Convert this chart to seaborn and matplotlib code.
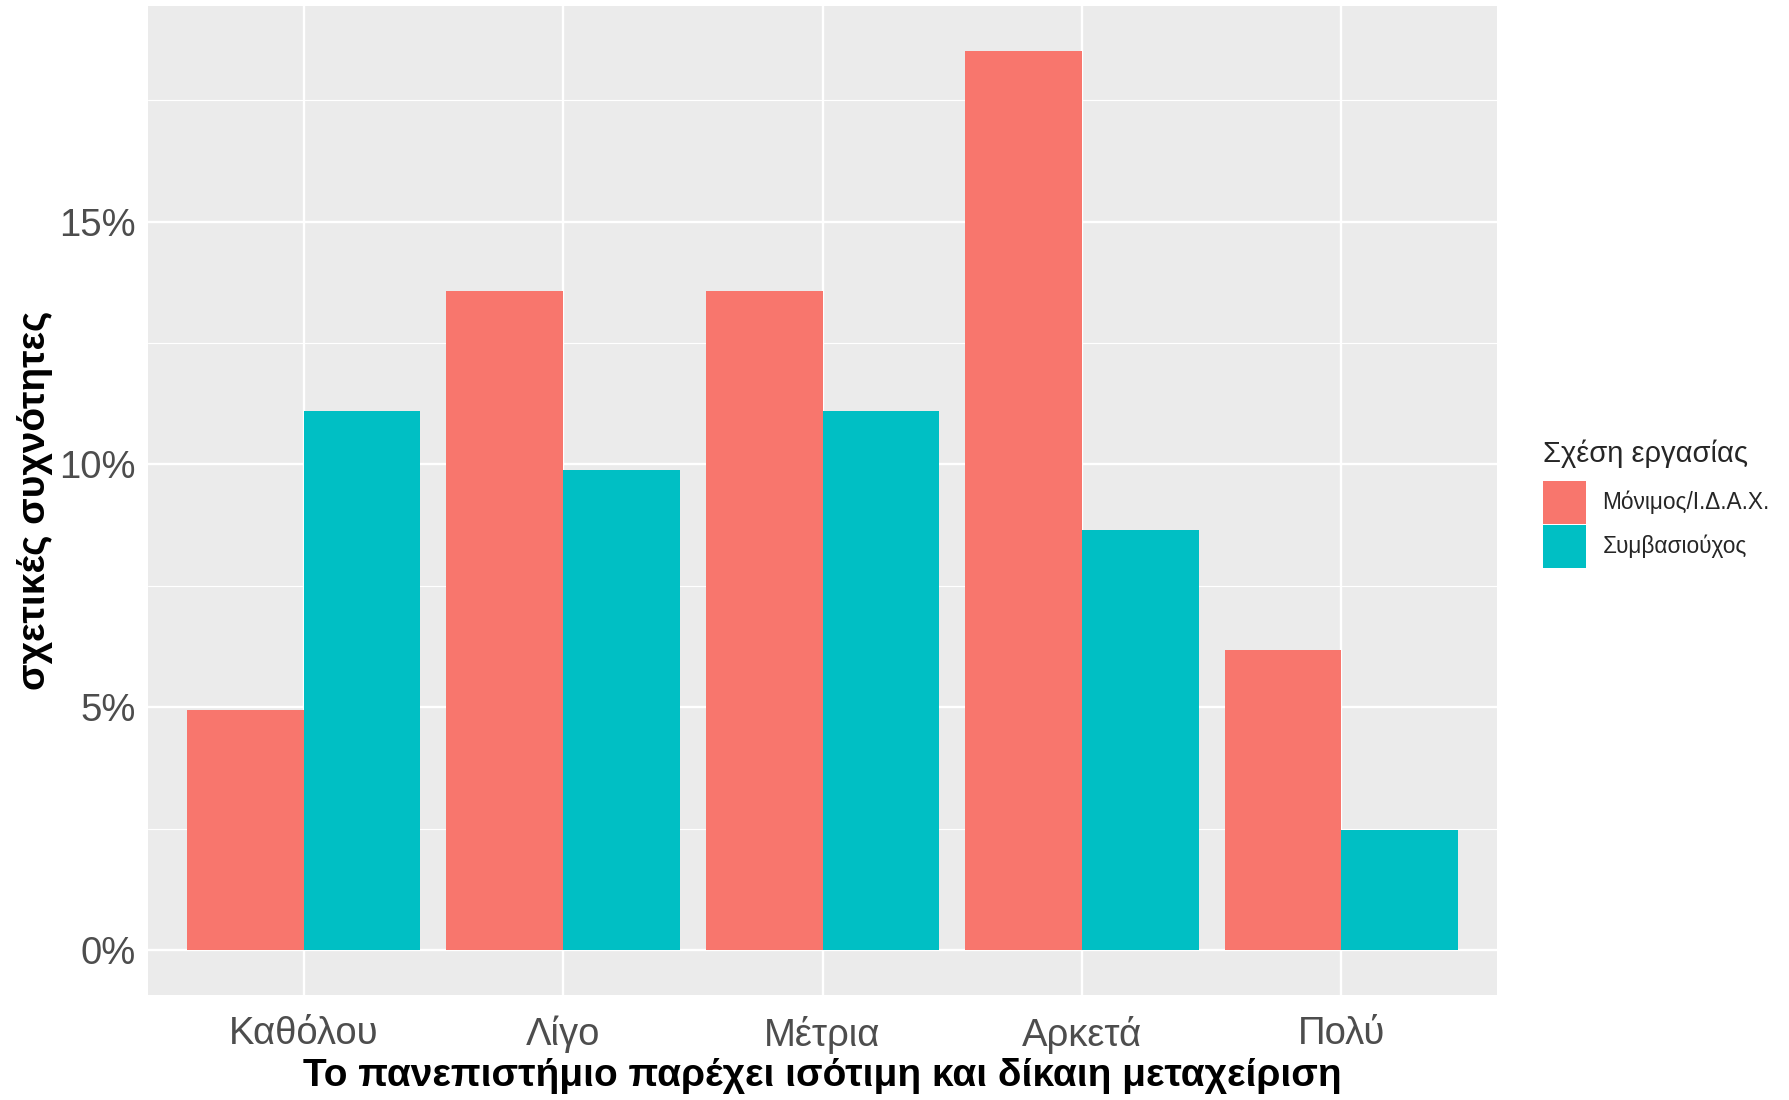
import matplotlib
matplotlib.use('Agg')
import matplotlib.pyplot as plt
import seaborn as sns
import pandas as pd
import numpy as np
from matplotlib.ticker import MultipleLocator, PercentFormatter

# data (relative frequencies, %)
levels = ['Καθόλου', 'Λίγο', 'Μέτρια', 'Αρκετά', 'Πολύ']
groups = ['Μόνιμος/Ι.Δ.Α.Χ.', 'Συμβασιούχος']
monimos = [4.94, 13.58, 13.58, 18.52, 6.17]
symvasiouxos = [11.11, 9.88, 11.11, 8.64, 2.47]
colors = ['#F8766D', '#00BFC4']

df = pd.DataFrame({
    'level': levels * 2,
    'group': [groups[0]] * len(levels) + [groups[1]] * len(levels),
    'pct': monimos + symvasiouxos,
})

sns.set_theme(style='darkgrid')
plt.rcParams['font.family'] = ['Liberation Sans', 'DejaVu Sans']

fig = plt.figure(figsize=(17.89, 11), dpi=100)
ax = fig.add_axes([148/1789, 105/1100, 1349/1789, 989/1100])
ax.set_facecolor('#EBEBEB')

sns.barplot(data=df, x='level', y='pct', hue='group', order=levels,
            hue_order=groups, palette=colors, width=0.9, gap=0,
            saturation=1, linewidth=0, ax=ax, zorder=3)

ax.set_xlim(-0.6, 4.6)
ax.set_ylim(-0.926, 19.44)
ax.yaxis.set_major_locator(MultipleLocator(5))
ax.yaxis.set_minor_locator(MultipleLocator(2.5))
ax.yaxis.set_major_formatter(PercentFormatter(xmax=100, decimals=0))
ax.grid(which='major', color='white', linewidth=1.7)
ax.grid(which='minor', axis='y', color='white', linewidth=0.8)
ax.set_axisbelow(True)
for s in ax.spines.values():
    s.set_visible(False)

ax.tick_params(axis='both', which='major', length=5, width=1.3, color='#333333',
               labelsize=27.5, labelcolor='#4D4D4D', pad=4)
ax.tick_params(axis='x', pad=10)
ax.tick_params(axis='y', which='minor', length=0)

ax.set_xlabel('Το πανεπιστήμιο παρέχει ισότιμη και δίκαιη μεταχείριση',
              fontsize=28, fontweight='bold', color='black', labelpad=3)
ax.set_ylabel('σχετικές συχνότητες', fontsize=28, fontweight='bold',
              color='black', labelpad=4)

handles, labels = ax.get_legend_handles_labels()
ax.get_legend().remove()
leg = fig.legend(handles, labels, title='Σχέση εργασίας', loc='upper left',
                 bbox_to_anchor=(1543/1789, 0.600), frameon=False, fontsize=16.3,
                 title_fontsize=21, handlelength=1.92, handleheight=2.53,
                 labelspacing=0.05, handletextpad=0.7, borderpad=0,
                 borderaxespad=0, alignment='left')
leg._legend_box.sep = 9

fig.savefig('out.png', dpi=100)
